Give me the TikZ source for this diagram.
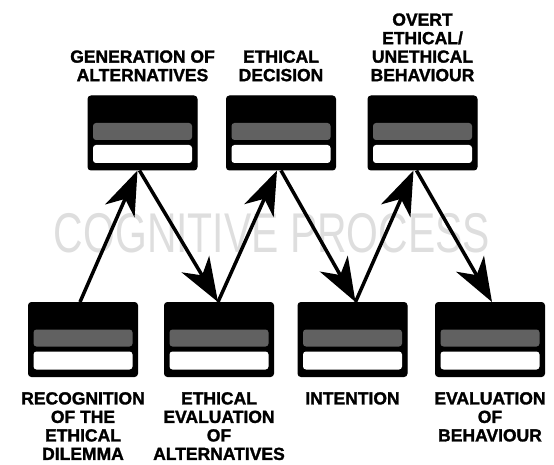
\documentclass[tikz,border=0pt]{standalone}
\usepackage{fontspec}
\setmainfont{Liberation Sans}[BoldFeatures={FakeBold=1.5}]
\usepackage{tikz}
\usetikzlibrary{arrows.meta,positioning}

\begin{document}
\begin{tikzpicture}[x=1pt,y=1pt,
  stage/.style={draw,line width=1pt,fill=black,rounded corners=3pt,
                minimum width=109pt,minimum height=74pt,inner sep=0pt,
                path picture={
                  \fill[black!62] ([shift={(5pt,-27pt)}]path picture bounding box.north west)
                    rectangle ([shift={(-5pt,-44pt)}]path picture bounding box.north east);
                  \fill[white] ([shift={(5pt,-49pt)}]path picture bounding box.north west)
                    rectangle ([shift={(-5pt,-67pt)}]path picture bounding box.north east);
                }},
  lbl/.style={align=center,inner sep=0pt,font=\fontsize{17.5}{18.5}\selectfont\bfseries},
  flow/.style={line width=3.5pt,-{Stealth[length=44pt,width=32pt,inset=13pt]}},
]
\useasboundingbox (0,0) rectangle (554,464);
\node[text=black!13,font=\fontsize{56}{56}\selectfont] (cog) at (272,231)
  {\scalebox{0.73}[1]{COGNITIVE PROCESS}};
% upper row
\node[stage] (gen) at (142.5,331) {};
\node[stage] (dec) at (281,331) {};
\node[stage] (overt) at (422.5,331) {};
% lower row
\node[stage] (rec) at (83,124.5) {};
\node[stage] (evalt) at (219,124.5) {};
\node[stage] (intent) at (352.5,124.5) {};
\node[stage] (evbeh) at (490,124.5) {};
\node[lbl,above=14pt of gen] (genl) {GENERATION OF\\ALTERNATIVES};
\node[lbl,above=14pt of dec] (decl) {ETHICAL\\DECISION};
\node[lbl,above=14pt of overt] (overtl) {OVERT\\ETHICAL/\\UNETHICAL\\BEHAVIOUR};
\node[lbl,below=15pt of rec] (recl) {RECOGNITION\\OF THE\\ETHICAL\\DILEMMA};
\node[lbl,below=15pt of evalt] (evaltl) {ETHICAL\\EVALUATION\\OF\\ALTERNATIVES};
\node[lbl,below=15pt of intent] (intentl) {INTENTION};
\node[lbl,below=15pt of evbeh] (evbehl) {EVALUATION\\OF\\BEHAVIOUR};
\foreach \a/\da/\b/\db in {rec/-3/gen/-5,evalt/-1/dec/-4,intent/3/overt/-9}
  \draw[flow] ([xshift=\da pt]\a.north) -- ([xshift=\db pt]\b.south);
\foreach \a/\da/\b/\db in {gen/-3/evalt/-1,dec/0/intent/3,overt/-6/evbeh/2}
  \draw[flow] ([xshift=\da pt]\a.south) -- ([xshift=\db pt]\b.north);
\end{tikzpicture}
\end{document}
